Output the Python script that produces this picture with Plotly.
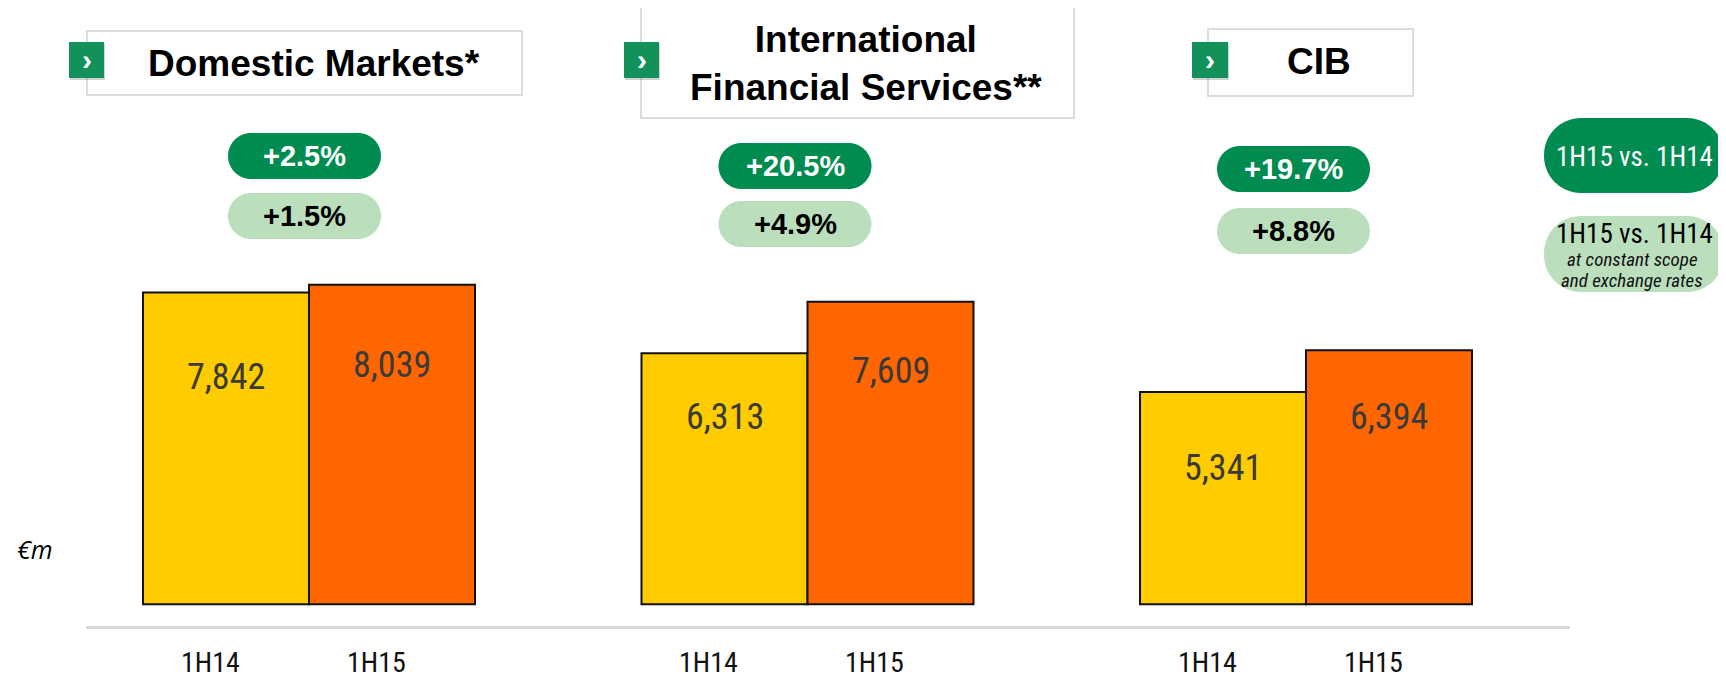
import plotly.graph_objects as go

# ---------------- data ----------------
segments = ["Domestic Markets*", "International<br>Financial Services**", "CIB"]
periods = ["1H14", "1H15"]
rev_1h14 = [7842, 6313, 5341]
rev_1h15 = [8039, 7609, 6394]
growth = ["+2.5%", "+20.5%", "+19.7%"]
growth_const = ["+1.5%", "+4.9%", "+8.8%"]
legend_main = "1H15 vs. 1H14"
legend_sub = ["at constant scope", "and exchange rates"]
unit_label = "€m"

# ---------------- layout constants ----------------
W, H = 1726, 675
OFF = 8                  # page body margin in the browser
ZERO_PX = 604.3 - OFF    # figure pixel row of value 0
PX_PER_UNIT = 0.03975    # pixel per €m
Y_TOP = ZERO_PX / PX_PER_UNIT
Y_BOT = -(H - ZERO_PX) / PX_PER_UNIT

BAR_W = 166
group_centers = [309 + 498.5 * i for i in range(3)]
label_drop = [[-84, -64, -76], [-80, -69, -67]]   # pixel drop of value label below bar top

YELLOW = "#FFCC00"
ORANGE = "#FF6600"
DARK_GREEN = "#008C50"
LIGHT_GREEN = "#BBDFBD"
NARROW = "Liberation Sans Narrow, Arial Narrow, Roboto Condensed, Roboto, sans-serif"
ARIAL = "Liberation Sans, Arial, sans-serif"


def px(x):
    return (x - OFF) / W


def py(y):
    return 1 - (y - OFF) / H


def rr_path(x0, y0, x1, y1, r):
    k = 0.5523 * r
    pts = [
        ("M", [(x0 + r, y0)]),
        ("L", [(x1 - r, y0)]),
        ("C", [(x1 - r + k, y0), (x1, y0 + r - k), (x1, y0 + r)]),
        ("L", [(x1, y1 - r)]),
        ("C", [(x1, y1 - r + k), (x1 - r + k, y1), (x1 - r, y1)]),
        ("L", [(x0 + r, y1)]),
        ("C", [(x0 + r - k, y1), (x0, y1 - r + k), (x0, y1 - r)]),
        ("L", [(x0, y0 + r)]),
        ("C", [(x0, y0 + r - k), (x0 + r - k, y0), (x0 + r, y0)]),
    ]
    s = ""
    for cmd, ps in pts:
        s += cmd + " " + " ".join(f"{px(a):.5f},{py(b):.5f}" for a, b in ps) + " "
    return s + "Z"


def note(x, y, text, font, xanchor="center", **kw):
    return dict(x=px(x), y=py(y), xref="paper", yref="paper", text=text, showarrow=False,
                xanchor=xanchor, yanchor="middle", font=font, **kw)


fig = go.Figure()

x14 = [c - BAR_W / 2 for c in group_centers]
x15 = [c + BAR_W / 2 for c in group_centers]

fig.add_trace(go.Bar(x=x14, y=rev_1h14, width=BAR_W, name=periods[0],
                     marker=dict(color=YELLOW, line=dict(color="#111111", width=2)),
                     hoverinfo="skip"))
fig.add_trace(go.Bar(x=x15, y=rev_1h15, width=BAR_W, name=periods[1],
                     marker=dict(color=ORANGE, line=dict(color="#111111", width=2)),
                     hoverinfo="skip"))

shapes = []
annotations = []

# value labels inside bars
for xs, vals, drops in ((x14, rev_1h14, label_drop[0]), (x15, rev_1h15, label_drop[1])):
    for x, v, d in zip(xs, vals, drops):
        annotations.append(dict(x=x, y=v, xref="x", yref="y", text=f"{v:,}",
                                showarrow=False, xanchor="center", yanchor="middle", yshift=d,
                                font=dict(family=NARROW, size=36, color="#3a3a3a")))

# period tick labels
for xs, lab in ((x14, periods[0]), (x15, periods[1])):
    for x in xs:
        annotations.append(dict(x=x - 16, y=py(662), xref="x", yref="paper", text=lab,
                                showarrow=False, xanchor="center", yanchor="middle",
                                font=dict(family=NARROW, size=28, color="#111111")))

# baseline rule
shapes.append(dict(type="line", xref="paper", yref="paper", x0=px(86), x1=px(1570),
                   y0=py(627.5), y1=py(627.5), line=dict(color="#D9D9D9", width=3)))

# header boxes
boxes = [(87, 31, 522, 95), (641, 7, 1074, 118), (1208, 29, 1413, 96)]
chevrons = [(69, 42, 104, 78), (624, 42, 659, 78), (1192, 42, 1228, 78)]
title_centers = [(314, 63), (866, 63), (1319, 62)]
for (bx0, by0, bx1, by1), (cx0, cy0, cx1, cy1), (tx, ty), seg in zip(boxes, chevrons, title_centers, segments):
    shapes.append(dict(type="rect", xref="paper", yref="paper", x0=px(bx0), x1=px(bx1),
                       y0=py(by1), y1=py(by0), line=dict(color="#DCDCDC", width=2),
                       fillcolor="white", layer="below"))
    shapes.append(dict(type="rect", xref="paper", yref="paper", x0=px(cx0 + 1), x1=px(cx1 + 1),
                       y0=py(cy1 + 2), y1=py(cy0 + 2), line=dict(width=0),
                       fillcolor="rgba(0,0,0,0.18)"))
    shapes.append(dict(type="rect", xref="paper", yref="paper", x0=px(cx0), x1=px(cx1),
                       y0=py(cy1), y1=py(cy0), line=dict(width=0), fillcolor="#12925A"))
    annotations.append(note((cx0 + cx1) / 2, (cy0 + cy1) / 2 - 1, "<b>›</b>",
                            dict(family=ARIAL, size=30, color="white")))
    annotations.append(note(tx, ty, f"<b>{seg}</b>", dict(family=ARIAL, size=37, color="black"),
                            align="center"))

# growth pills
pill_w, pill_h = 153, 46
pill_centers = [304.5, 795, 1293.5]
pill_tops = [(133, 193), (143, 201), (146, 208)]
for c, (t1, t2), g1, g2 in zip(pill_centers, pill_tops, growth, growth_const):
    x0 = c - pill_w / 2
    x1 = c + pill_w / 2
    shapes.append(dict(type="path", xref="paper", yref="paper",
                       path=rr_path(x0, t1, x1, t1 + pill_h, pill_h / 2),
                       fillcolor=DARK_GREEN, line=dict(width=0)))
    shapes.append(dict(type="path", xref="paper", yref="paper",
                       path=rr_path(x0, t2, x1, t2 + pill_h, pill_h / 2),
                       fillcolor=LIGHT_GREEN, line=dict(width=0)))
    annotations.append(note(c, t1 + pill_h / 2, f"<b>{g1}</b>",
                            dict(family=ARIAL, size=29, color="white")))
    annotations.append(note(c, t2 + pill_h / 2, f"<b>{g2}</b>",
                            dict(family=ARIAL, size=29, color="black")))

# legend pills
shapes.append(dict(type="path", xref="paper", yref="paper",
                   path=rr_path(1544, 118, 1724, 193, 37), fillcolor=DARK_GREEN, line=dict(width=0)))
shapes.append(dict(type="path", xref="paper", yref="paper",
                   path=rr_path(1544, 216, 1724, 292, 37), fillcolor=LIGHT_GREEN, line=dict(width=0)))
annotations.append(note(1634, 157, legend_main, dict(family=NARROW, size=27, color="white")))
annotations.append(note(1634, 234, legend_main, dict(family=NARROW, size=27, color="black")))
for i, s in enumerate(legend_sub):
    annotations.append(note(1632, 260 + i * 21, f"<i>{s}</i>",
                            dict(family=NARROW, size=19, color="#111111")))

# unit label
annotations.append(note(15, 549, f"<i>{unit_label}</i>",
                        dict(family="Open Sans, DejaVu Sans, sans-serif", size=25, color="black"),
                        xanchor="left"))

fig.update_layout(
    width=W, height=H, autosize=False,
    margin=dict(l=0, r=0, t=0, b=0, pad=0),
    paper_bgcolor="white", plot_bgcolor="white",
    barmode="overlay", showlegend=False,
    xaxis=dict(range=[OFF, W + OFF], visible=False, fixedrange=True),
    yaxis=dict(range=[Y_BOT, Y_TOP], visible=False, fixedrange=True),
    shapes=shapes, annotations=annotations,
)

fig.write_html("out.html")
